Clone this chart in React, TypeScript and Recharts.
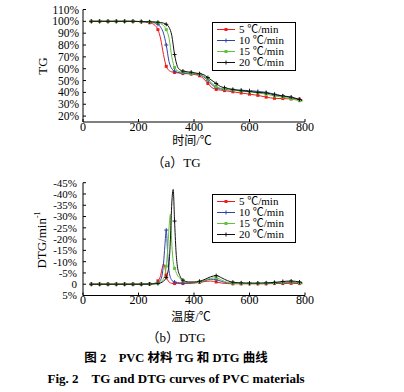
import React from "react";
import { LineChart, Line, XAxis, YAxis } from "recharts";

const FONT = "'Liberation Serif', 'Noto Sans CJK SC', serif";

// temperatures (℃)
const TG_T = [30, 60, 90, 120, 150, 180, 210, 240, 260, 270, 280, 290, 300, 310, 320, 330, 340, 350, 360, 390, 420, 435, 450, 465, 480, 495, 510, 540, 570, 600, 630, 660, 690, 720, 750, 780, 790];
const DTG_T = [30, 60, 90, 120, 150, 180, 210, 240, 260, 270, 280, 285, 290, 295, 300, 305, 310, 315, 320, 325, 330, 335, 340, 350, 360, 380, 400, 420, 440, 460, 480, 500, 520, 540, 570, 600, 630, 660, 690, 720, 750, 780, 790];

// TG (%)
const TG_5 = [100, 100, 100, 100, 100, 100, 99.7, 98.8, 96.5, 93, 85, 72, 62, 58.5, 57.3, 56.8, 56.5, 56.3, 56, 55.5, 54, 51.5, 47.5, 44, 42.5, 42, 41.5, 40.5, 39.5, 38.5, 37.5, 36, 35, 34.8, 34.5, 34.3, 33.8];
const TG_10 = [100, 100, 100, 100, 100, 100, 99.8, 99.5, 98.5, 97.5, 95, 90, 80, 66, 60, 58, 57, 56.5, 56.2, 55.8, 55, 53, 50, 46.5, 44, 43, 42.5, 42, 41.8, 41.5, 40.8, 40, 38.5, 37, 35.5, 34, 33.5];
const TG_15 = [100, 100, 100, 100, 100, 100, 99.8, 99.5, 99, 98.8, 98, 96.5, 93, 86, 70, 61, 58.5, 57.3, 57, 56, 55.3, 54, 51, 47.5, 45, 43.5, 43, 42, 41, 40.5, 39.5, 38.5, 37, 36, 34.5, 33, 32.5];
const TG_20 = [100, 100, 100, 100, 100, 100, 99.8, 99.6, 99.5, 99.2, 99, 98.5, 97.5, 95, 88, 72, 62, 59, 58, 57, 55.8, 55, 52.5, 50, 47.5, 45, 44, 42.5, 41.5, 40.8, 40, 39.5, 38, 37, 36, 34, 33];

// DTG (%/min, negative = mass loss)
const DTG_5 = [0, 0, 0, 0, 0, 0, 0, -0.1, -0.5, -1.5, -4, -7, -9, -7.5, -4, -2, -1, -0.6, -0.4, -0.3, -0.3, -0.3, -0.3, -0.3, -0.3, -0.4, -0.5, -0.8, -1.2, -1.4, -1, -0.5, -0.3, -0.2, -0.2, -0.2, -0.2, -0.2, -0.3, -0.3, -0.4, -0.3, -0.2];
const DTG_10 = [0, 0, 0, 0, 0, 0, 0, -0.1, -0.3, -0.8, -2, -4, -9, -17, -24, -14, -6, -3, -1.8, -1.2, -1, -0.8, -0.7, -0.6, -0.5, -0.5, -0.7, -1, -1.6, -2.2, -2, -1.2, -0.6, -0.4, -0.3, -0.3, -0.3, -0.3, -0.5, -0.6, -0.8, -0.5, -0.4];
const DTG_15 = [0, 0, 0, 0, 0, 0, 0, -0.1, -0.2, -0.5, -1, -1.5, -2.5, -4, -8, -15, -25, -31, -18, -10, -7, -5.5, -4, -2.5, -1.5, -0.8, -0.7, -1, -1.8, -2.6, -2.8, -1.8, -0.8, -0.5, -0.3, -0.3, -0.3, -0.4, -0.6, -0.8, -1, -0.6, -0.4];
const DTG_20 = [0, 0, 0, 0, 0, 0, 0, -0.1, -0.2, -0.3, -0.6, -0.9, -1.3, -2, -3, -5, -9, -20, -36, -42, -28, -15, -8, -3.5, -1.8, -1, -1, -1.3, -2.2, -3.3, -3.8, -2.8, -1.6, -0.9, -0.6, -0.5, -0.5, -0.6, -0.8, -1.2, -1.4, -1, -0.7];

const X_TICKS = [0, 200, 400, 600, 800];
const TG_TICKS = [20, 30, 40, 50, 60, 70, 80, 90, 100, 110];
const DTG_TICKS = [-45, -40, -35, -30, -25, -20, -15, -10, -5, 0, 5];

const SERIES = [
  { key: "r5", name: "5 ℃/min", color: "#f01c1c", shape: "square" },
  { key: "r10", name: "10 ℃/min", color: "#2f44a8", shape: "plus" },
  { key: "r15", name: "15 ℃/min", color: "#63c23c", shape: "square" },
  { key: "r20", name: "20 ℃/min", color: "#111111", shape: "plus" },
];

const tgData = TG_T.map((t, i) => ({ t, r5: TG_5[i], r10: TG_10[i], r15: TG_15[i], r20: TG_20[i] }));
const dtgData = DTG_T.map((t, i) => ({ t, r5: DTG_5[i], r10: DTG_10[i], r15: DTG_15[i], r20: DTG_20[i] }));

function marker(shape: string, color: string, cx: number, cy: number, key?: string) {
  if (shape === "square") {
    return <rect key={key} x={cx - 1.5} y={cy - 1.5} width={3} height={3} fill={color} />;
  }
  return (
    <path key={key} d={`M${cx - 2},${cy}H${cx + 2}M${cx},${cy - 2}V${cy + 2}`} stroke={color} strokeWidth={1} fill="none" />
  );
}

const makeDot = (shape: string, color: string) => (p: any) => {
  const { cx, cy, payload, index } = p;
  if (cx == null || cy == null || payload.t % 30 !== 0) return <g key={`e${index}`} />;
  return marker(shape, color, cx, cy, `d${index}`);
};

const tickStyle = { fontSize: 11.5, fill: "#000", fontFamily: FONT };

function LegendBox({ top }: { top: number }) {
  return (
    <div
      style={{
        position: "absolute", left: 212, top, width: 84, height: 49,
        border: "1px solid #000", boxSizing: "border-box", background: "#fff",
      }}
    >
      {SERIES.map((s, i) => (
        <div key={s.key} style={{ position: "absolute", left: 0, top: 1 + i * 11.2, height: 11, width: 84 }}>
          <svg width={20} height={11} style={{ position: "absolute", left: 4, top: 0 }}>
            <line x1={0} y1={5.5} x2={18} y2={5.5} stroke={s.color} strokeWidth={1} />
            {marker(s.shape, s.color, 9, 5.5)}
          </svg>
          <span style={{ position: "absolute", left: 26, top: 0, fontSize: 11, lineHeight: "11px", whiteSpace: "nowrap" }}>
            {s.name}
          </span>
        </div>
      ))}
    </div>
  );
}

const textAbs = (x: number, y: number, extra: React.CSSProperties = {}): React.CSSProperties => ({
  position: "absolute", left: x, top: y, transform: "translate(-50%, -50%)", whiteSpace: "nowrap", lineHeight: 1, ...extra,
});

export default function App() {
  return (
    <div style={{ position: "absolute", left: 0, top: 0, width: 404, height: 392, background: "#fff", fontFamily: FONT, color: "#000" }}>
      {/* (a) TG */}
      <div style={{ position: "absolute", left: 0, top: 0 }}>
        <LineChart width={404} height={140} data={tgData} margin={{ top: 9.5, right: 99, left: 0, bottom: 0 }}>
          <XAxis
            dataKey="t" type="number" domain={[0, 800]} ticks={X_TICKS} height={18} interval={0}
            tick={{ ...tickStyle, fontSize: 12 }} tickSize={-3} tickMargin={3}
            axisLine={{ stroke: "#000" }} tickLine={{ stroke: "#000" }}
          />
          <YAxis
            type="number" domain={[15, 110]} ticks={TG_TICKS} width={83} interval={0}
            tick={tickStyle} tickSize={-3} tickMargin={7}
            tickFormatter={(v: number) => `${v}%`}
            axisLine={{ stroke: "#000" }} tickLine={{ stroke: "#000" }}
          />
          {SERIES.map((s) => (
            <Line
              key={s.key} type="monotone" dataKey={s.key} stroke={s.color} strokeWidth={1}
              dot={makeDot(s.shape, s.color)} activeDot={false} isAnimationActive={false}
            />
          ))}
        </LineChart>
      </div>
      <LegendBox top={21.5} />
      <div style={textAbs(42, 66, { fontSize: 13, transform: "translate(-50%, -50%) rotate(-90deg)" })}>TG</div>
      <div style={textAbs(192, 141, { fontSize: 12 })}>时间/℃</div>
      <div style={textAbs(176, 162, { fontSize: 13 })}>（a）TG</div>

      {/* (b) DTG */}
      <div style={{ position: "absolute", left: 0, top: 170 }}>
        <LineChart width={404} height={145} data={dtgData} margin={{ top: 12.7, right: 99, left: 0, bottom: 0 }}>
          <XAxis
            dataKey="t" type="number" domain={[0, 800]} ticks={X_TICKS} height={19.5} interval={0}
            tick={{ ...tickStyle, fontSize: 12 }} tickSize={-3} tickMargin={3}
            axisLine={{ stroke: "#000" }} tickLine={{ stroke: "#000" }}
          />
          <YAxis
            type="number" domain={[-45, 5]} ticks={DTG_TICKS} width={83} reversed interval={0}
            tick={{ ...tickStyle, fontSize: 11 }} tickSize={-3} tickMargin={9}
            tickFormatter={(v: number) => (v === 0 ? "0" : `${v}%`)}
            axisLine={{ stroke: "#000" }} tickLine={{ stroke: "#000" }}
          />
          {SERIES.map((s) => (
            <Line
              key={s.key} type="monotone" dataKey={s.key} stroke={s.color} strokeWidth={1}
              dot={makeDot(s.shape, s.color)} activeDot={false} isAnimationActive={false}
            />
          ))}
        </LineChart>
      </div>
      <LegendBox top={193.5} />
      <div style={textAbs(41, 240, { fontSize: 13, transform: "translate(-50%, -50%) rotate(-90deg)" })}>
        DTG/min<sup style={{ fontSize: 8 }}>-1</sup>
      </div>
      <div style={textAbs(191, 317, { fontSize: 12 })}>温度/℃</div>
      <div style={textAbs(176, 337, { fontSize: 13 })}>（b）DTG</div>

      <div style={textAbs(176, 358, { fontSize: 12.5, fontWeight: "bold" })}>图 2　PVC 材料 TG 和 DTG 曲线</div>
      <div style={textAbs(176, 378, { fontSize: 13, fontWeight: "bold" })}>Fig. 2　TG and DTG curves of PVC materials</div>
    </div>
  );
}
